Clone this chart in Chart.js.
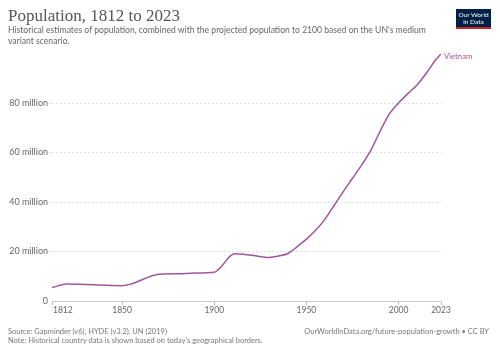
<!DOCTYPE html>
<html>
<head>
<meta charset="utf-8">
<script src="https://cdn.jsdelivr.net/npm/chart.js@4"></script>
<style>
  body { margin: 0; background: #fff; }
  #wrap { position: relative; width: 500px; height: 353px; overflow: hidden; font-family: Lato, sans-serif; }
  #chart { position: absolute; left: 0; top: 0; }
  .title { position: absolute; left: 8px; top: 6px; font-family: "Liberation Serif", serif; font-size: 17px; color: #555; white-space: nowrap; }
  .subtitle { position: absolute; left: 8px; top: 25px; width: 440px; font-size: 8.6px; line-height: 11px; color: #666; }
  .logo { position: absolute; left: 456px; top: 9px; width: 35px; height: 20px; background: #002147; border-bottom: 2px solid #ce261e; box-sizing: border-box; color: #fff; font-size: 6.5px; line-height: 7px; text-align: center; padding-top: 2px; }
  .foot { position: absolute; font-size: 7.5px; color: #777; white-space: nowrap; }
</style>
</head>
<body>
<div id="wrap">
  <canvas id="chart" width="500" height="353"></canvas>
  <div class="title">Population, 1812 to 2023</div>
  <div class="subtitle">Historical estimates of population, combined with the projected population to 2100 based on the UN's medium variant scenario.</div>
  <div class="logo">Our World<br>in Data</div>
  <div class="foot" style="left:8px; top:327px;">Source: Gapminder (v6), HYDE (v3.2), UN (2019)</div>
  <div class="foot" style="left:8px; top:336px;">Note: Historical country data is shown based on today's geographical borders.</div>
  <div class="foot" style="right:11px; top:327px;">OurWorldInData.org/future-population-growth • CC BY</div>
</div>
<script>
/* ==============================
   Data (population in millions)
============================== */
const years = [1812, 1820, 1830, 1840, 1850, 1855, 1870, 1880, 1890, 1900, 1903, 1911, 1920, 1930, 1935, 1940, 1945,
               1950, 1955, 1960, 1965, 1970, 1975, 1980, 1985, 1990, 1995, 2000, 2005, 2010, 2015, 2020, 2023];
const vietnam = [5.4, 6.9, 6.7, 6.4, 6.2, 6.9, 10.8, 11.0, 11.3, 11.6, 13.3, 19.1, 18.5, 17.6, 18.2, 19.2, 22.0,
                 25.0, 28.6, 33.0, 38.6, 44.2, 49.6, 55.0, 61.0, 68.6, 75.6, 80.0, 83.8, 87.3, 92.0, 97.4, 99.8];
const seriesName = 'Vietnam';
const xTicks = [1812, 1850, 1900, 1950, 2000, 2023];
const yTicks = [0, 20, 40, 60, 80];
const yTickLabels = ['0', '20 million', '40 million', '60 million', '80 million'];

const lineColor = '#a2559c';

/* ==============================
   Plugin: x labels + series label
============================== */
const labelPlugin = {
    id: 'labels',
    afterDraw(chart) {
        const ctx = chart.ctx;
        const x = chart.scales.x;
        const y = chart.scales.y;
        ctx.save();
        ctx.font = '8.5px Lato';
        ctx.fillStyle = '#666';
        ctx.textBaseline = 'middle';
        xTicks.forEach((t, i) => {
            ctx.textAlign = i === 0 ? 'left' : 'center';
            ctx.fillText(String(t), x.getPixelForValue(t) + (i === 0 ? 1 : 0), 310);
        });
        const last = vietnam.length - 1;
        ctx.font = '7.7px Lato';
        ctx.fillStyle = lineColor;
        ctx.textAlign = 'left';
        ctx.fillText(seriesName, x.getPixelForValue(years[last]) + 3, y.getPixelForValue(vietnam[last]) + 3);
        ctx.restore();
    }
};

new Chart(document.getElementById('chart'), {
    type: 'line',
    data: {
        datasets: [{
            label: seriesName,
            data: years.map((yr, i) => ({ x: yr, y: vietnam[i] })),
            borderColor: lineColor,
            borderWidth: 1.5,
            pointRadius: 0,
            cubicInterpolationMode: 'monotone',
            fill: false
        }]
    },
    options: {
        responsive: false,
        animation: false,
        devicePixelRatio: 1,
        layout: { padding: { left: 0, right: 59, top: 54, bottom: 48 } },
        plugins: { legend: { display: false }, tooltip: { enabled: false } },
        scales: {
            x: {
                type: 'linear',
                min: 1812,
                max: 2023,
                afterBuildTicks: s => { s.ticks = xTicks.map(v => ({ value: v })); },
                ticks: { display: false },
                grid: { drawOnChartArea: false, drawTicks: true, tickLength: 4, color: '#bbb' },
                border: { display: true, color: '#ccc', width: 1 }
            },
            y: {
                min: 0,
                max: 99.8,
                afterBuildTicks: s => { s.ticks = yTicks.map(v => ({ value: v })); },
                afterFit: s => { s.width = 52; },
                ticks: {
                    padding: 1,
                    color: '#666',
                    font: { family: 'Lato', size: 9 },
                    callback: (v) => yTickLabels[yTicks.indexOf(v)]
                },
                grid: {
                    color: c => c.tick && c.tick.value === 0 ? 'rgba(0,0,0,0)' : '#ddd',
                    tickLength: 3,
                    tickBorderDash: [2, 2]
                },
                border: { display: false, dash: [2, 2] }
            }
        }
    },
    plugins: [labelPlugin]
});
</script>
</body>
</html>
